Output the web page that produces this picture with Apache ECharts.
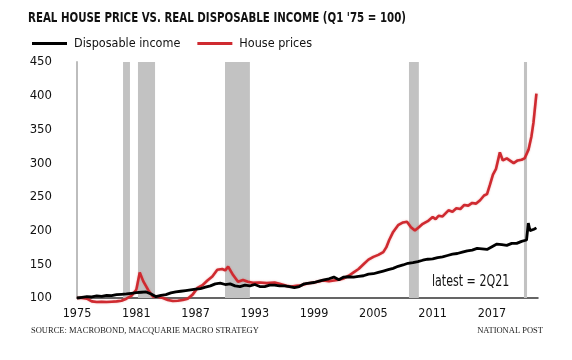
<!DOCTYPE html>
<html>
<head>
<meta charset="utf-8">
<script src="https://cdn.jsdelivr.net/npm/echarts@6/dist/echarts.min.js"></script>
<style>
html,body{margin:0;padding:0;background:#fff;}
#chart{width:572px;height:360px;}
</style>
</head>
<body>
<div id="chart"></div>
<script>
// ---- data ----
var titleText = "REAL HOUSE PRICE VS. REAL DISPOSABLE INCOME (Q1 '75 = 100)";
var seriesNames = ["Disposable income", "House prices"];
var yTicks = [100, 150, 200, 250, 300, 350, 400, 450];
var xTickYears = [1975, 1981, 1987, 1993, 1999, 2005, 2011, 2017];

var incomeYear = [1975.0,1975.5,1976.0,1976.5,1977.0,1977.5,1978.0,1978.5,1979.0,1979.5,
  1980.0,1980.5,1981.0,1981.5,1982.0,1982.5,1983.0,1983.5,1984.0,1984.5,
  1985.0,1985.5,1986.0,1986.5,1987.0,1987.5,1988.0,1988.5,1989.0,1989.5,
  1990.0,1990.5,1991.0,1991.5,1992.0,1992.5,1993.0,1993.5,1994.0,1994.5,
  1995.0,1995.5,1996.0,1996.5,1997.0,1997.5,1998.0,1998.5,1999.0,1999.5,
  2000.0,2000.5,2001.0,2001.5,2002.0,2002.5,2003.0,2003.5,2004.0,2004.5,
  2005.0,2005.5,2006.0,2006.5,2007.0,2007.5,2008.0,2008.5,2009.0,2009.5,
  2010.0,2010.5,2011.0,2011.5,2012.0,2012.5,2013.0,2013.5,2014.0,2014.5,
  2015.0,2015.5,2016.0,2016.5,2017.0,2017.5,2018.0,2018.5,2019.0,2019.5,
  2020.0,2020.5,2020.68,2020.85,2021.05,2021.25,2021.5];
var incomeValue = [100,101,102,101.5,103,102.5,104,103.5,105,105.5,
  106,107,108,108.5,109,106,102,104,105,107.5,
  109,110,111,112,113,114,116,118,121,122,
  120,121,118,117,119,118,120,117,117,119,
  119,118,118,117,115.5,117,121,122,123,125,
  127,128.5,131,127,131,131.5,131,132,133,135.5,
  136,138,140,142,144,147,149,151.5,152.5,154,
  156,157.5,158,160,161,163,165,166,168,170,
  171,173.5,173,172,176,180,179,178,181,181,
  184,186,211,200,199,202,204];

var houseYear = [1975.0,1975.5,1976.0,1976.5,1977.0,1977.5,1978.0,1978.5,1979.0,1979.5,
  1980.0,1980.5,1981.0,1981.35,1981.7,1982.2,1982.7,1983.2,1983.7,1984.2,
  1984.7,1985.2,1985.7,1986.2,1986.7,1987.2,1987.7,1988.2,1988.7,1989.2,
  1989.7,1990.0,1990.3,1990.8,1991.3,1991.8,1992.3,1992.8,1993.5,1994.2,
  1995.0,1995.5,1996.2,1996.7,1997.2,1997.7,1998.3,1999.0,1999.9,2000.5,
  2001.0,2001.5,2002.0,2002.5,2003.0,2003.5,2004.0,2004.5,2005.0,2005.5,
  2006.0,2006.3,2006.6,2007.0,2007.5,2008.0,2008.4,2008.8,2009.2,2009.6,
  2010.0,2010.5,2011.0,2011.3,2011.6,2012.0,2012.6,2013.0,2013.4,2013.8,
  2014.2,2014.6,2015.0,2015.4,2015.8,2016.2,2016.5,2016.8,2017.1,2017.4,
  2017.8,2018.1,2018.5,2018.9,2019.2,2019.6,2020.0,2020.3,2020.7,2021.0,
  2021.2,2021.5];
var houseValue = [100,100,99,95,94,94.5,94,94.5,95,96,
  99,103,112,138,125,112,102,102,100,97,
  95.5,96,97,99,105,115,119,126,132,142,
  143,141,146.5,134,124,126.7,124,122.5,123,122,
  123,121,118,117,118,119,121.5,123,126,125,
  126,127,129,133,138,143,150,157,161,164,
  168,175,186,198,208,212,213,205,200,205,
  210,214,220,217,222,221,230,228,233,232,
  238,237,241,240,245,252,254,268,283,291,
  316,304,307,303,300,304,305,307,320,340,
  360,403];

var recessions = [[1979.66,1980.36],[1981.17,1982.9],[1989.98,1992.5],[2008.6,2009.6],[2020.24,2020.55]];

var sourceText = "SOURCE: MACROBOND, MACQUARIE MACRO STRATEGY";
var creditText = "NATIONAL POST";
var noteText = "latest = 2Q21";

// ---- build ----
function pairs(xs, ys){ return xs.map(function(x,i){ return [x, ys[i]]; }); }
var FONT = "'Liberation Sans Narrow','DejaVu Sans Condensed','Roboto',sans-serif";

var chart = echarts.init(document.getElementById('chart'), null, {renderer:'canvas'});
chart.setOption({
  animation:false,
  backgroundColor:'#fff',
  legend:{
    left:27, top:32, itemWidth:35, itemHeight:3, itemGap:17, icon:'rect',
    textStyle:{fontFamily:FONT, fontSize:12.5, color:'#111', padding:[0,0,0,2]},
    data:seriesNames
  },
  grid:{left:77, right:34, top:62, bottom:62},
  xAxis:{
    type:'value', min:1975, max:2021.66, interval:6,
    axisLine:{show:true, lineStyle:{color:'#333', width:1.5}},
    axisTick:{show:false},
    splitLine:{show:false},
    axisLabel:{
      fontFamily:FONT, fontSize:12.5, color:'#111', margin:9,
      formatter:function(v){ return xTickYears.indexOf(Math.round(v))>=0 && Math.abs(v-Math.round(v))<1e-6 ? String(Math.round(v)) : ''; }
    }
  },
  yAxis:{
    type:'value', min:yTicks[0], max:yTicks[yTicks.length-1], interval:50,
    axisLine:{show:true, lineStyle:{color:'#bdbdbd', width:2}},
    axisTick:{show:false},
    splitLine:{show:false},
    axisLabel:{fontFamily:FONT, fontSize:13, color:'#111', margin:25}
  },
  series:[
    {
      name:seriesNames[0], type:'line', data:pairs(incomeYear, incomeValue),
      symbol:'none', z:4, clip:false,
      lineStyle:{color:'#000', width:2.8},
      itemStyle:{color:'#000'},
      markArea:{
        silent:true,
        itemStyle:{color:'#c2c2c2'},
        data:recessions.map(function(r){ return [{xAxis:r[0]},{xAxis:r[1]}]; })
      }
    },
    {
      name:seriesNames[1], type:'line', data:pairs(houseYear, houseValue),
      symbol:'none', z:3, clip:false,
      lineStyle:{color:'#cf2a30', width:2.6, shadowColor:'rgba(220,80,80,0.45)', shadowBlur:2},
      itemStyle:{color:'#cf2a30'}
    }
  ],
  graphic:[
    {type:'text', x:28, y:11, scaleX:0.785, style:{text:titleText, font:'bold 14.5px '+FONT, fill:'#111'}},
    {type:'text', x:432, y:275, scaleX:0.82, style:{text:noteText, font:'15px '+FONT, fill:'#111'}},
    {type:'text', left:31, top:326, style:{text:sourceText, font:'8.5px "Liberation Serif",serif', fill:'#222'}},
    {type:'text', right:29, top:326, style:{text:creditText, font:'8.5px "Liberation Serif",serif', fill:'#222'}}
  ]
});
</script>
</body>
</html>
